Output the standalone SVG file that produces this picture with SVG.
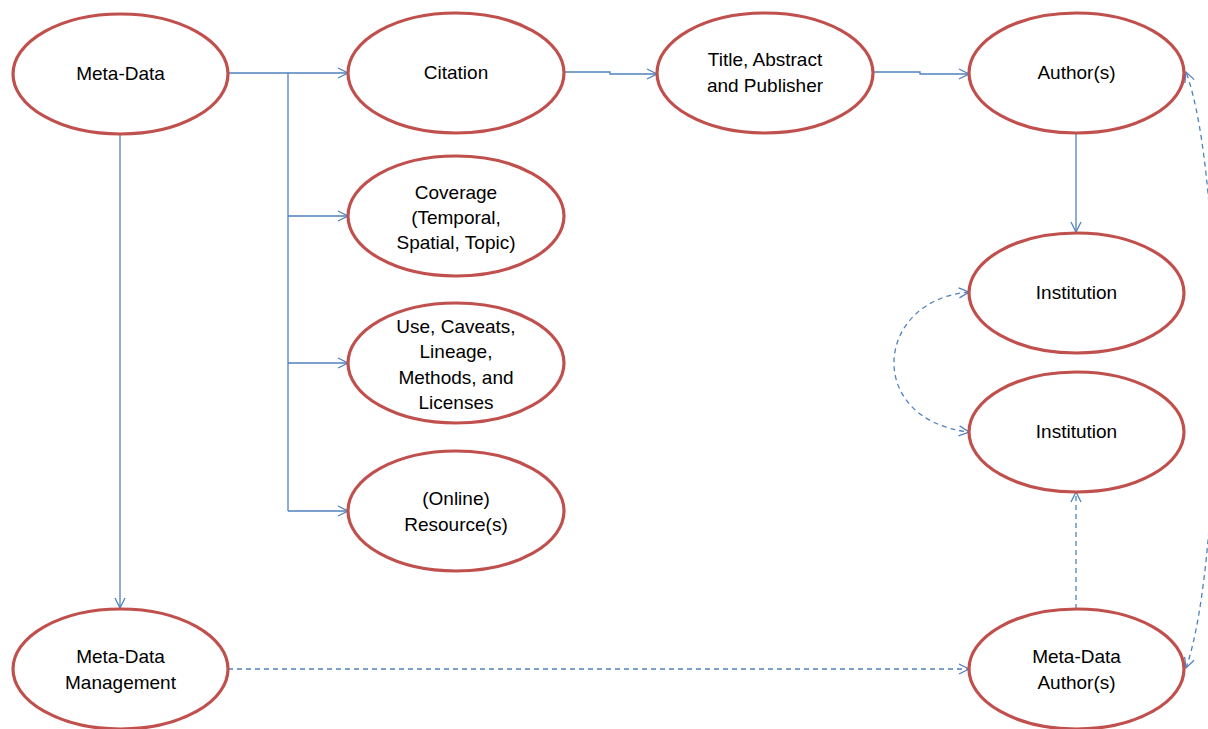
<svg xmlns="http://www.w3.org/2000/svg" width="1208" height="729" viewBox="0 0 1208 729">
  <style>
    .node ellipse { fill: #ffffff; stroke: #C0504D; stroke-width: 3.2; }
    .node text { font-family: "Liberation Sans", Arial, sans-serif; font-size: 19px; fill: #000000; text-anchor: middle; }
    .link { fill: none; stroke: #4F81BD; stroke-width: 1.3; }
    .dash { stroke-dasharray: 5 4; }
  </style>
  <defs>
    <marker id="open" viewBox="0 0 12 12" refX="11" refY="6" markerWidth="12" markerHeight="12" markerUnits="userSpaceOnUse" orient="auto">
      <path d="M1,1 L11,6 L1,11" fill="none" stroke="#4F81BD" stroke-width="1.3"/>
    </marker>
    <marker id="openStart" viewBox="0 0 12 12" refX="11" refY="6" markerWidth="12" markerHeight="12" markerUnits="userSpaceOnUse" orient="auto-start-reverse">
      <path d="M1,1 L11,6 L1,11" fill="none" stroke="#4F81BD" stroke-width="1.3"/>
    </marker>
  </defs>

  <!-- connectors -->
  <g id="connectors">
    <!-- Meta-Data branches -->
    <path class="link" d="M228,73 L348,73" marker-end="url(#open)"/>
    <path class="link" d="M288,73 L288,511"/>
    <path class="link" d="M288,216 L348,216" marker-end="url(#open)"/>
    <path class="link" d="M288,363 L348,363" marker-end="url(#open)"/>
    <path class="link" d="M288,511 L348,511" marker-end="url(#open)"/>
    <path class="link" d="M120,134 L120,608" marker-end="url(#open)"/>
    <!-- citation chain -->
    <path class="link" d="M564,72 L610,72 L610,74 L657,74" marker-end="url(#open)"/>
    <path class="link" d="M873,72 L920,72 L920,74 L969,74" marker-end="url(#open)"/>
    <path class="link" d="M1076,133 L1076,232" marker-end="url(#open)"/>
    <!-- dashed relations -->
    <path class="link dash" d="M969,292 C874,300 864,420 969,432" marker-start="url(#openStart)" marker-end="url(#open)"/>
    <path class="link dash" d="M228,669 L969,669" marker-end="url(#open)"/>
    <path class="link dash" d="M1076,609 L1076,492" marker-end="url(#open)"/>
    <path class="link dash" d="M1186,668 C1224,560 1226,180 1186,72" marker-start="url(#openStart)" marker-end="url(#open)"/>
  </g>

  <g id="meta-data" class="node">
    <ellipse cx="120.5" cy="74" rx="107.5" ry="60"/>
    <text x="120.5" y="80">Meta-Data</text>
  </g>
  <g id="citation" class="node">
    <ellipse cx="456" cy="73" rx="108" ry="60"/>
    <text x="456" y="79">Citation</text>
  </g>
  <g id="title-abstract" class="node">
    <ellipse cx="765" cy="73" rx="108" ry="60"/>
    <text x="765" y="66">Title, Abstract</text>
    <text x="765" y="92">and Publisher</text>
  </g>
  <g id="authors" class="node">
    <ellipse cx="1076.5" cy="73" rx="107.5" ry="60"/>
    <text x="1076.5" y="79">Author(s)</text>
  </g>
  <g id="coverage" class="node">
    <ellipse cx="456" cy="216" rx="108" ry="60"/>
    <text x="456" y="199">Coverage</text>
    <text x="456" y="224">(Temporal,</text>
    <text x="456" y="249">Spatial, Topic)</text>
  </g>
  <g id="use-caveats" class="node">
    <ellipse cx="456" cy="363" rx="108" ry="60"/>
    <text x="456" y="333">Use, Caveats,</text>
    <text x="456" y="358">Lineage,</text>
    <text x="456" y="384">Methods, and</text>
    <text x="456" y="409">Licenses</text>
  </g>
  <g id="online-resources" class="node">
    <ellipse cx="456" cy="511" rx="108" ry="60"/>
    <text x="456" y="505">(Online)</text>
    <text x="456" y="531">Resource(s)</text>
  </g>
  <g id="institution-1" class="node">
    <ellipse cx="1076.5" cy="293" rx="107.5" ry="60"/>
    <text x="1076.5" y="299">Institution</text>
  </g>
  <g id="institution-2" class="node">
    <ellipse cx="1076.5" cy="432" rx="107.5" ry="60"/>
    <text x="1076.5" y="438">Institution</text>
  </g>
  <g id="meta-data-management" class="node">
    <ellipse cx="120.5" cy="669" rx="107.5" ry="60"/>
    <text x="120.5" y="663">Meta-Data</text>
    <text x="120.5" y="689">Management</text>
  </g>
  <g id="meta-data-authors" class="node">
    <ellipse cx="1076.5" cy="669" rx="107.5" ry="60"/>
    <text x="1076.5" y="663">Meta-Data</text>
    <text x="1076.5" y="689">Author(s)</text>
  </g>
</svg>
